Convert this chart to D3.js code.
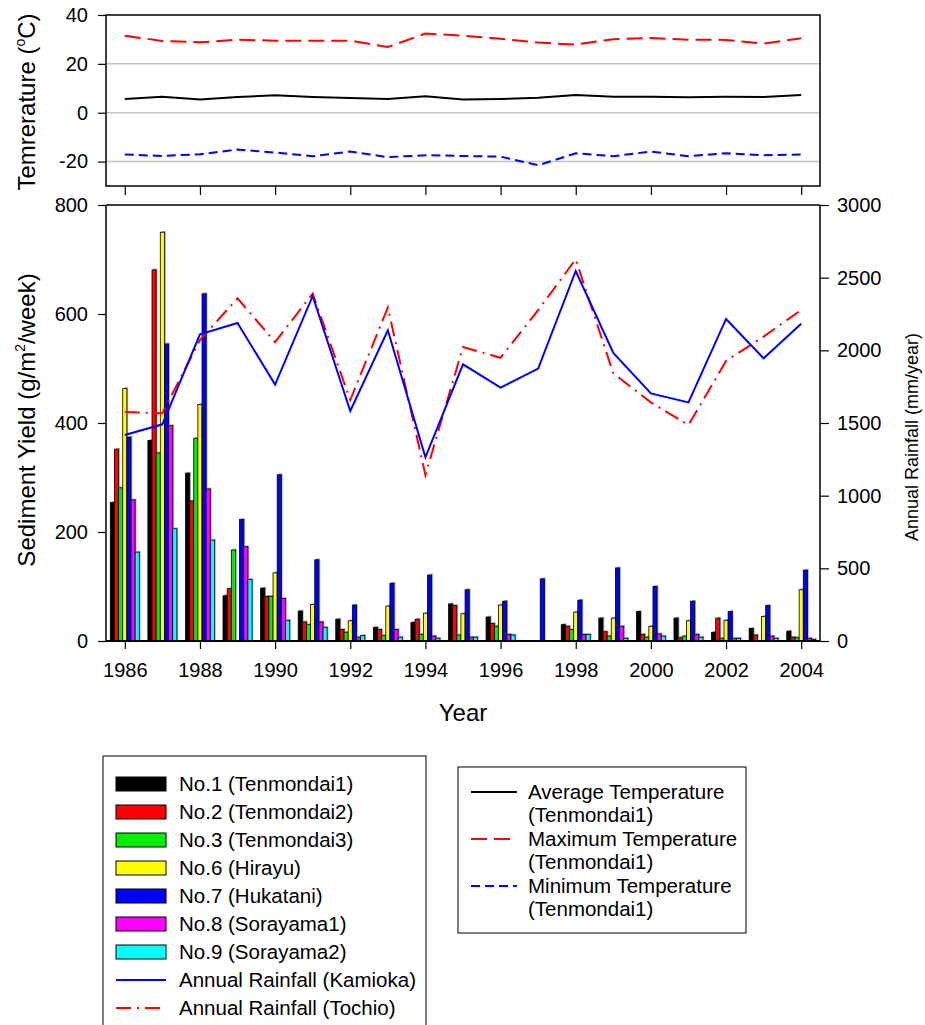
<!DOCTYPE html>
<html>
<head>
<meta charset="utf-8">
<script src="https://cdn.jsdelivr.net/npm/d3@7.9.0/dist/d3.min.js"></script>
<style>
  body { margin: 0; background: #fff; }
  svg { font-family: "Liberation Sans", Arial, sans-serif; }
</style>
</head>
<body>
<svg id="chart" width="925" height="1025"></svg>
<script>
const years = [1986, 1987, 1988, 1989, 1990, 1991, 1992, 1993, 1994, 1995,
  1996, 1997, 1998, 1999, 2000, 2001, 2002, 2003, 2004];

// temperature, Tenmondai1 (deg C)
const tempAvg = [5.6, 6.5, 5.4, 6.4, 7.1, 6.4, 6.0, 5.6, 6.7, 5.4, 5.6, 6.1, 7.3, 6.5, 6.5, 6.3, 6.5, 6.4, 7.3];
const tempMax = [31.5, 29.4, 28.8, 29.9, 29.5, 29.5, 29.5, 26.9, 32.4, 31.5, 30.3, 28.7, 27.9, 30.1, 30.6, 29.9, 29.8, 28.3, 30.5];
const tempMin = [-17.1, -17.7, -17.0, -15.1, -16.3, -17.8, -15.9, -18.2, -17.4, -17.7, -18.0, -21.5, -16.6, -17.8, -15.9, -17.8, -16.6, -17.4, -17.1];

// annual rainfall (mm/year)
const rainKamioka = [1417, 1491, 2110, 2188, 1764, 2374, 1583, 2138, 1264, 1904, 1743, 1874, 2546, 1982, 1704, 1642, 2216, 1945, 2183];
const rainTochio = [1576, 1567, 2071, 2358, 2057, 2390, 1658, 2294, 1142, 2023, 1949, 2277, 2626, 1842, 1642, 1486, 1927, 2094, 2278];

// sediment yield (g/m2/week)
const siteNames = ["No.1 (Tenmondai1)", "No.2 (Tenmondai2)", "No.3 (Tenmondai3)", "No.6 (Hirayu)",
  "No.7 (Hukatani)", "No.8 (Sorayama1)", "No.9 (Sorayama2)"];
const siteColors = ["#000000", "#ff0000", "#00ee00", "#ffff00", "#0000ff", "#ff00ff", "#00ffff"];
const no1 = [254, 368, 308, 83, 97, 55, 40, 25, 34, 68, 44, 0, 30, 42, 54, 42, 16, 23, 18];
const no2 = [352, 681, 257, 96, 82, 35, 21, 21, 40, 65, 32, 0, 27, 17, 12, 6, 42, 11, 7];
const no3 = [281, 345, 372, 167, 82, 30, 16, 10, 12, 11, 27, 0, 21, 9, 7, 9, 5, 0, 6];
const no6 = [463, 750, 434, 0, 125, 67, 37, 64, 51, 50, 66, 0, 53, 42, 27, 37, 38, 45, 94];
const no7 = [374, 545, 637, 223, 305, 149, 66, 106, 121, 94, 73, 114, 75, 134, 100, 73, 54, 65, 130];
const no8 = [259, 395, 279, 173, 78, 35, 7, 21, 9, 7, 12, 0, 12, 27, 13, 12, 5, 9, 5];
const no9 = [163, 206, 185, 113, 38, 25, 10, 7, 5, 7, 11, 0, 12, 5, 9, 7, 5, 5, 3];
const siteValues = [no1, no2, no3, no6, no7, no8, no9];

const tempTicks = [-20, 0, 20, 40];
const yieldTicks = [0, 200, 400, 600, 800];
const rainTicks = [0, 500, 1000, 1500, 2000, 2500, 3000];
const yearTicks = [1986, 1988, 1990, 1992, 1994, 1996, 1998, 2000, 2002, 2004];

const svg = d3.select("#chart");
const left = 106, right = 820;
const legendFont = 20.5;

const x = d3.scaleLinear().domain([1985.5, 2004.5]).range([left, right]);
const yTemp = d3.scaleLinear().domain([-30, 40]).range([186, 15]);
const yYield = d3.scaleLinear().domain([0, 800]).range([641, 205]);
const yRain = d3.scaleLinear().domain([0, 3000]).range([641, 205]);
const inner = d3.scaleBand().domain(d3.range(siteNames.length)).range([-14.5, 14.5]);

function styleAxis(g) {
  g.select(".domain").remove();
  g.selectAll(".tick line").attr("stroke", "#000").attr("stroke-width", 1.2);
  g.selectAll(".tick text").attr("font-size", 20).attr("fill", "#000")
    .attr("font-family", '"Liberation Sans", Arial, sans-serif');
}

// ---------- temperature panel ----------
const tempPanel = svg.append("g");
tempPanel.selectAll("line.grid")
  .data([-20, 0, 20])
  .join("line")
  .attr("x1", left).attr("x2", right)
  .attr("y1", (d) => yTemp(d)).attr("y2", (d) => yTemp(d))
  .attr("stroke", "#c4c4c4").attr("stroke-width", 1.5);

const tempLine = d3.line().x((d, i) => x(years[i])).y((d) => yTemp(d));
tempPanel.append("path").attr("d", tempLine(tempAvg)).attr("fill", "none")
  .attr("stroke", "#000").attr("stroke-width", 2);
tempPanel.append("path").attr("d", tempLine(tempMax)).attr("fill", "none")
  .attr("stroke", "#ff0000").attr("stroke-width", 2).attr("stroke-dasharray", "16,7");
tempPanel.append("path").attr("d", tempLine(tempMin)).attr("fill", "none")
  .attr("stroke", "#0000ff").attr("stroke-width", 2).attr("stroke-dasharray", "9,5");

tempPanel.append("rect").attr("x", left).attr("y", 15).attr("width", right - left).attr("height", 171)
  .attr("fill", "none").attr("stroke", "#000").attr("stroke-width", 1.5);

tempPanel.append("g").attr("transform", `translate(${left},0)`)
  .call(d3.axisLeft(yTemp).tickValues(tempTicks).tickSize(8).tickPadding(10).tickFormat((d) => d < 0 ? "-" + Math.abs(d) : d))
  .call(styleAxis);
tempPanel.append("g").attr("transform", "translate(0,186)")
  .call(d3.axisBottom(x).tickValues(yearTicks).tickSize(9).tickFormat(""))
  .call(styleAxis);

const tTitle = tempPanel.append("text")
  .attr("transform", "translate(35,102) rotate(-90)")
  .attr("text-anchor", "middle").attr("font-size", 24);
tTitle.append("tspan").text("Temrerature (");
tTitle.append("tspan").attr("font-size", 14).attr("dy", -10).text("o");
tTitle.append("tspan").attr("dy", 10).text("C)");

// ---------- sediment / rainfall panel ----------
const mainPanel = svg.append("g");
const barData = [];
siteValues.forEach((vals, s) => {
  vals.forEach((v, i) => {
    if (v > 0) barData.push({ s, year: years[i], v });
  });
});

mainPanel.selectAll("rect.shadow")
  .data(barData)
  .join("rect")
  .attr("class", "shadow")
  .attr("x", (d) => x(d.year) + inner(d.s) + 1.3)
  .attr("y", (d) => yYield(d.v) - 1.3)
  .attr("width", inner.bandwidth())
  .attr("height", (d) => yYield(0) - yYield(d.v))
  .attr("fill", "#a8a8a8");

mainPanel.selectAll("rect.bar")
  .data(barData)
  .join("rect")
  .attr("class", "bar")
  .attr("x", (d) => x(d.year) + inner(d.s))
  .attr("y", (d) => yYield(d.v))
  .attr("width", inner.bandwidth())
  .attr("height", (d) => yYield(0) - yYield(d.v))
  .attr("fill", (d) => siteColors[d.s])
  .attr("stroke", "#000").attr("stroke-width", 0.8);

const rainLine = d3.line().x((d, i) => x(years[i])).y((d) => yRain(d));
mainPanel.append("path").attr("d", rainLine(rainTochio)).attr("fill", "none")
  .attr("stroke", "#ff0000").attr("stroke-width", 2).attr("stroke-dasharray", "15,6,2,6");
mainPanel.append("path").attr("d", rainLine(rainKamioka)).attr("fill", "none")
  .attr("stroke", "#0000ff").attr("stroke-width", 2);

mainPanel.append("line").attr("x1", left).attr("x2", right).attr("y1", 205).attr("y2", 205)
  .attr("stroke", "#000").attr("stroke-width", 1.5);
mainPanel.append("line").attr("x1", left).attr("x2", left).attr("y1", 205).attr("y2", 641)
  .attr("stroke", "#000").attr("stroke-width", 1.5);
mainPanel.append("line").attr("x1", right).attr("x2", right).attr("y1", 205).attr("y2", 641)
  .attr("stroke", "#000").attr("stroke-width", 1.5);
mainPanel.append("line").attr("x1", left).attr("x2", right).attr("y1", 641).attr("y2", 641)
  .attr("stroke", "#000").attr("stroke-width", 1.8);

mainPanel.append("g").attr("transform", `translate(${left},0)`)
  .call(d3.axisLeft(yYield).tickValues(yieldTicks).tickSize(8).tickPadding(10))
  .call(styleAxis);
mainPanel.append("g").attr("transform", `translate(${right},0)`)
  .call(d3.axisRight(yRain).tickValues(rainTicks).tickSize(9).tickPadding(8).tickFormat(d3.format("d")))
  .call(styleAxis);
mainPanel.append("g").attr("transform", "translate(0,641)")
  .call(d3.axisBottom(x).tickValues(yearTicks).tickSize(8).tickPadding(14).tickFormat(d3.format("d")))
  .call(styleAxis);

const sTitle = mainPanel.append("text")
  .attr("transform", "translate(35,420) rotate(-90)")
  .attr("text-anchor", "middle").attr("font-size", 24);
sTitle.append("tspan").text("Sediment Yield (g/m");
sTitle.append("tspan").attr("font-size", 14).attr("dy", -10).text("2");
sTitle.append("tspan").attr("dy", 10).text("/week)");

mainPanel.append("text")
  .attr("transform", "translate(918,437) rotate(-90)")
  .attr("text-anchor", "middle").attr("font-size", 18)
  .text("Annual Rainfall (mm/year)");

mainPanel.append("text").attr("x", 463).attr("y", 721)
  .attr("text-anchor", "middle").attr("font-size", 24).text("Year");

// ---------- legends ----------
const leg1 = svg.append("g");
leg1.append("rect").attr("x", 103).attr("y", 756).attr("width", 323).attr("height", 290)
  .attr("fill", "none").attr("stroke", "#000").attr("stroke-width", 1);
leg1.selectAll("rect.sw")
  .data(siteNames)
  .join("rect")
  .attr("class", "sw")
  .attr("x", 116).attr("y", (d, i) => 777 + i * 28)
  .attr("width", 50).attr("height", 14)
  .attr("fill", (d, i) => siteColors[i]).attr("stroke", "#000").attr("stroke-width", 1);
const lineLegend = [
  { label: "Annual Rainfall (Kamioka)", color: "#0000ff", dash: null },
  { label: "Annual Rainfall (Tochio)", color: "#ff0000", dash: "15,6,2,6" }
];
const allLabels = siteNames.concat(lineLegend.map((d) => d.label));
leg1.selectAll("text")
  .data(allLabels)
  .join("text")
  .attr("x", 179).attr("y", (d, i) => 791 + i * 28)
  .attr("font-size", legendFont).text((d) => d);
leg1.selectAll("line")
  .data(lineLegend)
  .join("line")
  .attr("x1", 116).attr("x2", 166)
  .attr("y1", (d, i) => 784 + (i + 7) * 28).attr("y2", (d, i) => 784 + (i + 7) * 28)
  .attr("stroke", (d) => d.color).attr("stroke-width", 1.8)
  .attr("stroke-dasharray", (d) => d.dash);

const leg2 = svg.append("g");
leg2.append("rect").attr("x", 458).attr("y", 767).attr("width", 288).attr("height", 166)
  .attr("fill", "none").attr("stroke", "#000").attr("stroke-width", 1);
const tempLegend = [
  { l1: "Average Temperature", color: "#000", dash: null },
  { l1: "Maximum Temperature", color: "#ff0000", dash: "16,7" },
  { l1: "Minimum Temperature", color: "#0000ff", dash: "9,5" }
];
tempLegend.forEach((d, i) => {
  const yy = 792 + i * 47;
  leg2.append("line").attr("x1", 471).attr("x2", 517).attr("y1", yy).attr("y2", yy)
    .attr("stroke", d.color).attr("stroke-width", 1.8).attr("stroke-dasharray", d.dash);
  leg2.append("text").attr("x", 528).attr("y", yy + 7).attr("font-size", legendFont).text(d.l1);
  leg2.append("text").attr("x", 528).attr("y", yy + 30).attr("font-size", legendFont).text("(Tenmondai1)");
});
</script>
</body>
</html>
